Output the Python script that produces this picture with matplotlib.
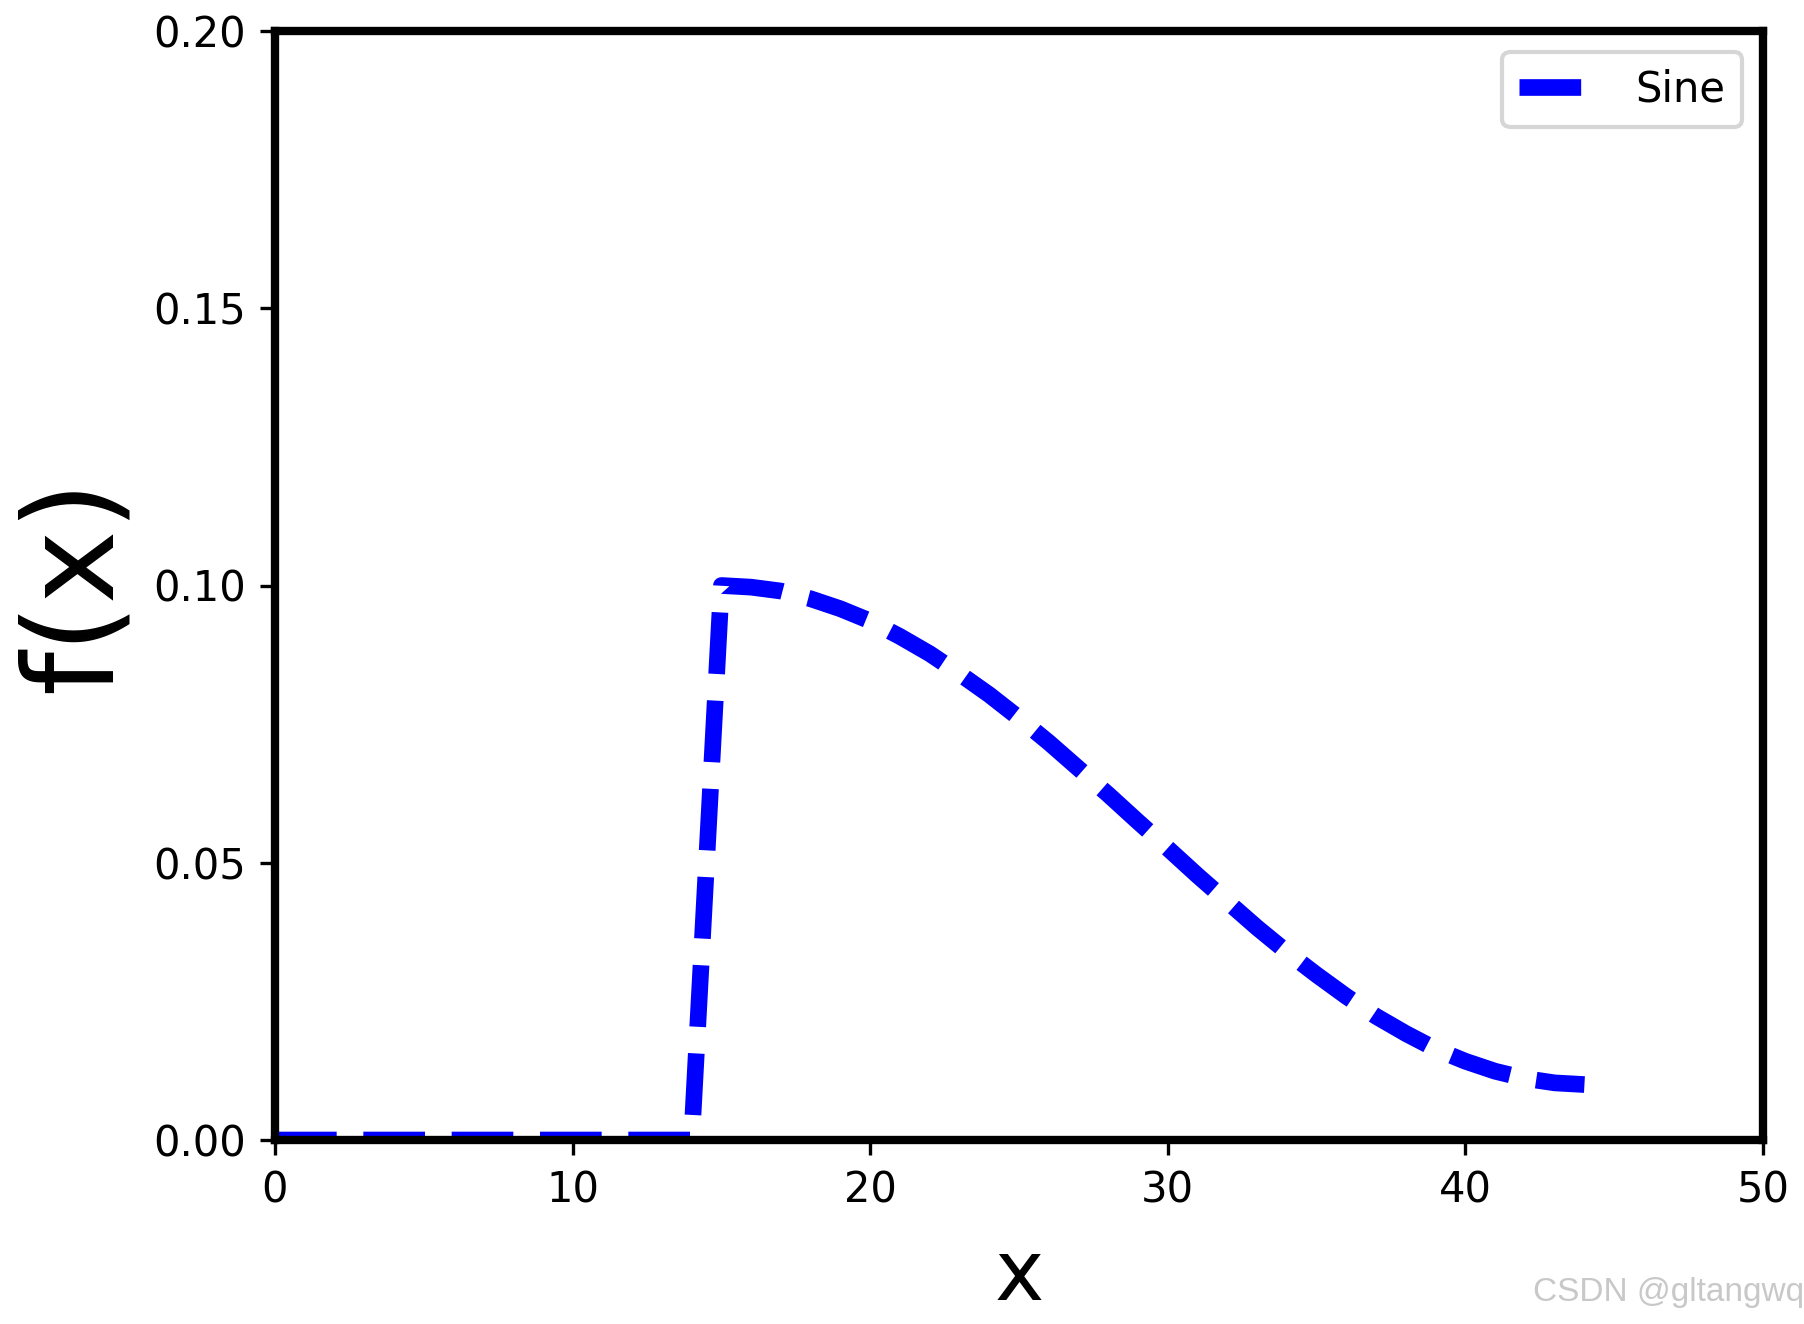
import matplotlib
matplotlib.use("Agg")
import matplotlib.pyplot as plt

# Data
x_values = list(range(0, 45))
y_values = [0.0] * 15 + [
    0.100, 0.0997, 0.0990, 0.0976, 0.0958, 0.0936, 0.0908, 0.0877, 0.0841, 0.0803,
    0.0761, 0.0717, 0.0670, 0.0623, 0.0574, 0.0526, 0.0477, 0.0430, 0.0383, 0.0339,
    0.0298, 0.0259, 0.0223, 0.0192, 0.0164, 0.0142, 0.0124, 0.0111, 0.0103, 0.0100,
]
series_label = "Sine"
x_ticks = [0, 10, 20, 30, 40, 50]
y_ticks = [0.00, 0.05, 0.10, 0.15, 0.20]

fig = plt.figure(figsize=(1804 / 300, 1324 / 300), dpi=300)
ax = fig.add_axes([275 / 1804, 1 - 1140 / 1324, (1763 - 275) / 1804, (1140 - 31) / 1324])

ax.plot(x_values, y_values, color="blue", linestyle="--", linewidth=4, label=series_label)

ax.set_xlim(0, 50)
ax.set_ylim(0, 0.2)
ax.set_xticks(x_ticks)
ax.set_yticks(y_ticks)
ax.set_yticklabels([f"{v:.2f}" for v in y_ticks])
ax.tick_params(labelsize=10)
for s in ax.spines.values():
    s.set_linewidth(2)

ax.set_xlabel("x", fontsize=20, labelpad=6)
ax.set_ylabel("f(x)", fontsize=30)
ax.legend(loc="upper right", fontsize=10)

fig.text(1533 / 1804, 1 - 1292 / 1324, "CSDN @gltangwq", fontsize=8, color="#c8c8c8",
         family="Liberation Sans", ha="left", va="center")

fig.savefig("out.png", dpi=300)
